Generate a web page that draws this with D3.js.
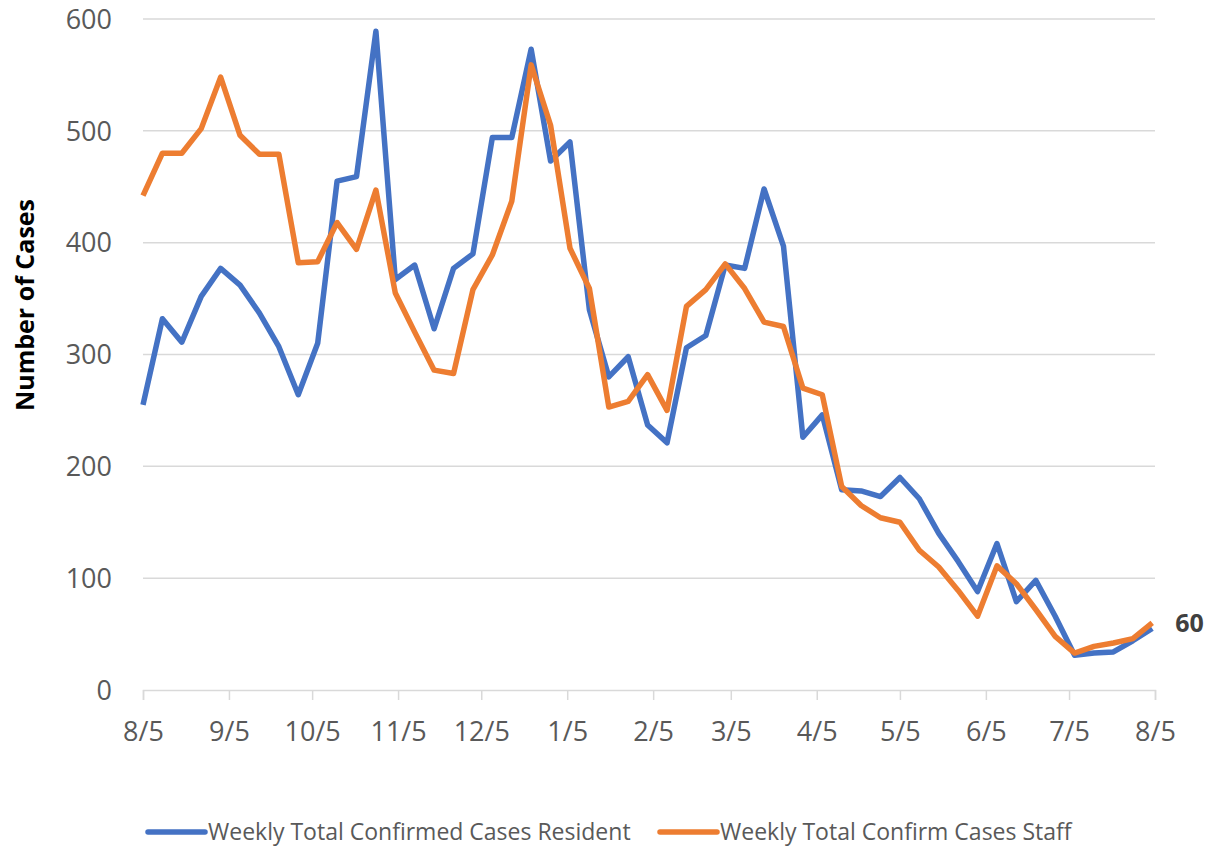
<!DOCTYPE html>
<html>
<head>
<meta charset="utf-8">
<script src="https://d3js.org/d3.v7.min.js"></script>
<style>
  body { margin: 0; background: #fff; }
  text { font-family: "Open Sans", sans-serif; }
</style>
</head>
<body>
<script>
  var width = 1208, height = 847;
  var margin = { left: 143, right: 53, top: 19, bottom: 157 };

  // weekly reports starting 8/5
  var startDate = new Date(2020, 7, 5);
  var resident = [255, 332, 311, 352, 377, 362, 337, 307, 264, 310,
                  455, 459, 589, 367, 380, 323, 377, 390, 494, 494,
                  573, 473, 490, 340, 280, 298, 237, 221, 306, 317,
                  380, 377, 448, 397, 226, 246, 179, 178, 173, 190,
                  171, 140, 115, 88, 131, 79, 98, 66, 31, 33,
                  34, 44, 55];
  var staff = [442, 480, 480, 502, 548, 496, 479, 479, 382, 383,
               418, 394, 447, 355, 320, 286, 283, 358, 389, 437,
               559, 505, 395, 359, 253, 258, 282, 250, 343, 358,
               381, 359, 329, 325, 270, 264, 182, 165, 154, 150,
               125, 110, 89, 66, 111, 95, 72, 48, 33, 39,
               42, 46, 60];
  var tickLabels = ["8/5", "9/5", "10/5", "11/5", "12/5", "1/5", "2/5",
                    "3/5", "4/5", "5/5", "6/5", "7/5", "8/5"];
  var yTicks = [0, 100, 200, 300, 400, 500, 600];
  var seriesNames = ["Weekly Total Confirmed Cases Resident", "Weekly Total Confirm Cases Staff"];
  var colors = ["#4472C4", "#ED7D31"];

  var weeks = resident.map(function (d, i) { return d3.timeDay.offset(startDate, 7 * i); });
  var tickDates = tickLabels.map(function (d, i) { return new Date(2020, 7 + i, 5); });

  var svg = d3.select("body").append("svg")
      .attr("width", width).attr("height", height);

  var x = d3.scaleTime()
      .domain([tickDates[0], tickDates[tickDates.length - 1]])
      .range([margin.left, width - margin.right]);
  var y = d3.scaleLinear()
      .domain([0, 600])
      .range([height - margin.bottom, margin.top]);

  // gridlines
  svg.append("g")
      .selectAll("line")
      .data(yTicks.slice(1))
      .enter().append("line")
      .attr("x1", x.range()[0]).attr("x2", x.range()[1])
      .attr("y1", function (d) { return y(d); })
      .attr("y2", function (d) { return y(d); })
      .attr("stroke", "#d9d9d9").attr("stroke-width", 1.5);

  // y axis labels
  svg.append("g")
      .selectAll("text")
      .data(yTicks)
      .enter().append("text")
      .attr("x", 112)
      .attr("y", function (d) { return y(d); })
      .attr("dy", "0.36em")
      .attr("text-anchor", "end")
      .attr("font-size", 27)
      .attr("fill", "#595959")
      .text(function (d) { return d; });

  // x axis
  var xAxis = svg.append("g")
      .attr("transform", "translate(0," + y(0) + ")")
      .call(d3.axisBottom(x)
          .tickValues(tickDates)
          .tickSize(10)
          .tickFormat(function (d, i) { return tickLabels[i]; }));
  xAxis.select(".domain").attr("stroke", "#d9d9d9").attr("stroke-width", 1.5);
  xAxis.selectAll(".tick line").attr("stroke", "#d9d9d9").attr("stroke-width", 1.5);
  xAxis.selectAll(".tick text")
      .attr("y", 32)
      .attr("font-size", 27)
      .attr("font-family", "'Open Sans', sans-serif")
      .attr("fill", "#595959");

  // y axis title
  svg.append("text")
      .attr("transform", "translate(34," + 305 + ") rotate(-90)")
      .attr("text-anchor", "middle")
      .attr("font-size", 25)
      .attr("font-weight", "bold")
      .attr("fill", "#000")
      .text("Number of Cases");

  // lines
  var line = d3.line()
      .x(function (d, i) { return x(weeks[i]); })
      .y(function (d) { return y(d); });

  [resident, staff].forEach(function (s, k) {
    svg.append("path")
        .datum(s)
        .attr("d", line)
        .attr("fill", "none")
        .attr("stroke", colors[k])
        .attr("stroke-width", 5.5)
        .attr("stroke-linejoin", "round");
  });

  // last value label
  var last = staff.length - 1;
  svg.append("text")
      .attr("x", x(weeks[last]) + 23)
      .attr("y", y(staff[last]))
      .attr("dy", "0.36em")
      .attr("font-size", 25)
      .attr("font-weight", "bold")
      .attr("fill", "#404040")
      .text(staff[last]);

  // legend
  var legendX = [148, 660];
  seriesNames.forEach(function (name, k) {
    var g = svg.append("g").attr("transform", "translate(" + legendX[k] + ",832)");
    g.append("line")
        .attr("x1", 0).attr("x2", 57)
        .attr("stroke", colors[k]).attr("stroke-width", 5.5)
        .attr("stroke-linecap", "round");
    g.append("text")
        .attr("x", 60)
        .attr("dy", "0.36em")
        .attr("font-size", 23)
        .attr("fill", "#595959")
        .text(name);
  });
</script>
</body>
</html>
